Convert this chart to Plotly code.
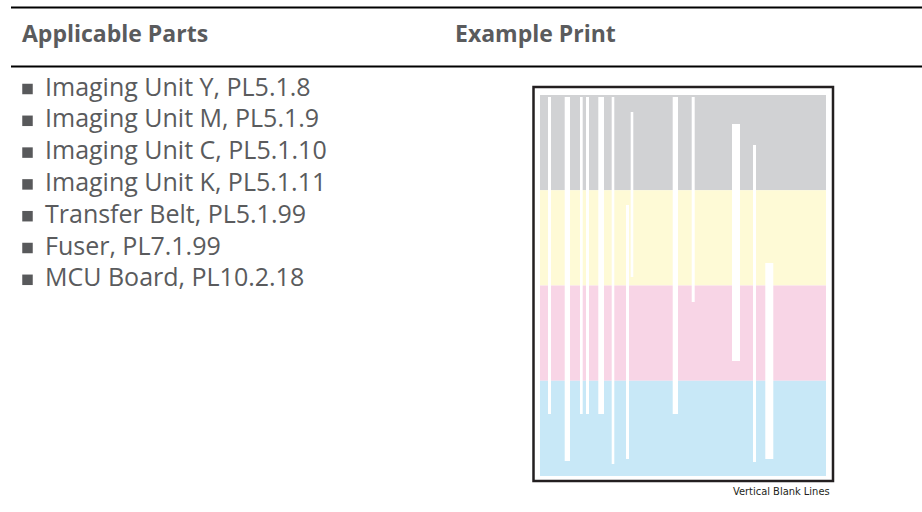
import plotly.graph_objects as go

# ---------------- data ----------------
header_left = "Applicable Parts"
header_right = "Example Print"
parts = [
    "Imaging Unit Y, PL5.1.8",
    "Imaging Unit M, PL5.1.9",
    "Imaging Unit C, PL5.1.10",
    "Imaging Unit K, PL5.1.11",
    "Transfer Belt, PL5.1.99",
    "Fuser, PL7.1.99",
    "MCU Board, PL10.2.18",
]
caption = "Vertical Blank Lines"

# print page (units: page width 286, height 381, y measured from top)
band_names = ["K", "Y", "M", "C"]
band_top = [0, 95.25, 190.5, 285.75]
band_bottom = [95.25, 190.5, 285.75, 381]
band_colors = ["#d1d2d4", "#fefad6", "#f8d5e6", "#c8e8f7"]

# white blank stripes
stripe_left = [8, 24.7, 40, 46, 58.3, 71.7, 90.7, 86, 132.7, 151.7, 192, 213, 225.3]
stripe_right = [11, 30, 42.7, 49, 64, 74.3, 93.3, 89, 138, 154.7, 200, 216, 233.3]
stripe_top = [2, 2, 2, 2, 2, 2, 17, 110, 2, 2, 29, 50, 168]
stripe_bottom = [319, 366, 319, 319, 319, 369, 182, 364, 319, 207, 266, 367, 364]

# ---------------- layout ----------------
W, H = 922, 512
TEXT = "#5a5b5d"
FONT = "Open Sans"

fig = go.Figure()

fig.update_layout(
    width=W, height=H,
    margin=dict(l=0, r=0, t=0, b=0),
    paper_bgcolor="white", plot_bgcolor="rgba(0,0,0,0)",
    showlegend=False,
    xaxis=dict(range=[0, W], domain=[0, 1], visible=False, fixedrange=True),
    yaxis=dict(range=[H, 0], domain=[0, 1], visible=False, fixedrange=True),
    # the example print (1 unit = 1 px)
    xaxis2=dict(range=[-8, 296], domain=[532 / W, 836 / W], visible=False,
                anchor="y2", fixedrange=True),
    yaxis2=dict(range=[388, -10], domain=[1 - 483 / H, 1 - 85 / H], visible=False,
                anchor="x2", fixedrange=True),
)

shapes = []
# header rules
for yy in (7.5, 66.5):
    shapes.append(dict(type="line", xref="x", yref="y", x0=11, x1=W, y0=yy, y1=yy,
                       line=dict(color="black", width=2.2)))

# colour bands
for t, b, c in zip(band_top, band_bottom, band_colors):
    shapes.append(dict(type="rect", xref="x2", yref="y2", x0=0, x1=286, y0=t, y1=b,
                       fillcolor=c, line=dict(width=0), layer="below"))
# stripes
for x0, x1, t, b in zip(stripe_left, stripe_right, stripe_top, stripe_bottom):
    shapes.append(dict(type="rect", xref="x2", yref="y2", x0=x0, x1=x1, y0=t, y1=b,
                       fillcolor="white", line=dict(width=0), layer="below"))
# frame
shapes.append(dict(type="rect", xref="x2", yref="y2", x0=-6.5, x1=293, y0=-8, y1=386,
                   fillcolor="rgba(0,0,0,0)", line=dict(color="#231f20", width=2.5)))

annotations = []
annotations.append(dict(text="<b>" + header_left + "</b>", xref="x", yref="y", x=20, y=33,
                        xanchor="left", yanchor="middle", showarrow=False,
                        font=dict(family=FONT, size=23, color=TEXT)))
annotations.append(dict(text="<b>" + header_right + "</b>", xref="x", yref="y", x=453, y=33,
                        xanchor="left", yanchor="middle", showarrow=False,
                        font=dict(family=FONT, size=23, color=TEXT)))

row0, row_gap = 86.0, 31.8
bx, by = [], []
for i, p in enumerate(parts):
    yc = row0 + i * row_gap
    annotations.append(dict(text=p, xref="x", yref="y", x=43, y=yc - 0.5,
                            xanchor="left", yanchor="middle", showarrow=False,
                            font=dict(family=FONT, size=25, color=TEXT)))
    bx.append(27.5)
    by.append(yc + 3)

fig.add_trace(go.Scatter(x=bx, y=by, mode="markers", xaxis="x", yaxis="y",
                         marker=dict(symbol="square", size=10.5, color="#58595b"),
                         hoverinfo="skip"))

annotations.append(dict(text=caption, xref="x", yref="y", x=832, y=491,
                        xanchor="right", yanchor="middle", showarrow=False,
                        font=dict(family="DejaVu Sans Condensed, Liberation Sans Narrow, sans-serif",
                                  size=11, color="#231f20")))

# invisible trace on the print axes so they render
fig.add_trace(go.Scatter(x=[0], y=[0], xaxis="x2", yaxis="y2", mode="markers",
                         marker=dict(opacity=0), hoverinfo="skip"))

fig.update_layout(shapes=shapes, annotations=annotations)
fig.write_html("out.html", config={"displayModeBar": False},
               post_script="document.body.style.margin='0';")
